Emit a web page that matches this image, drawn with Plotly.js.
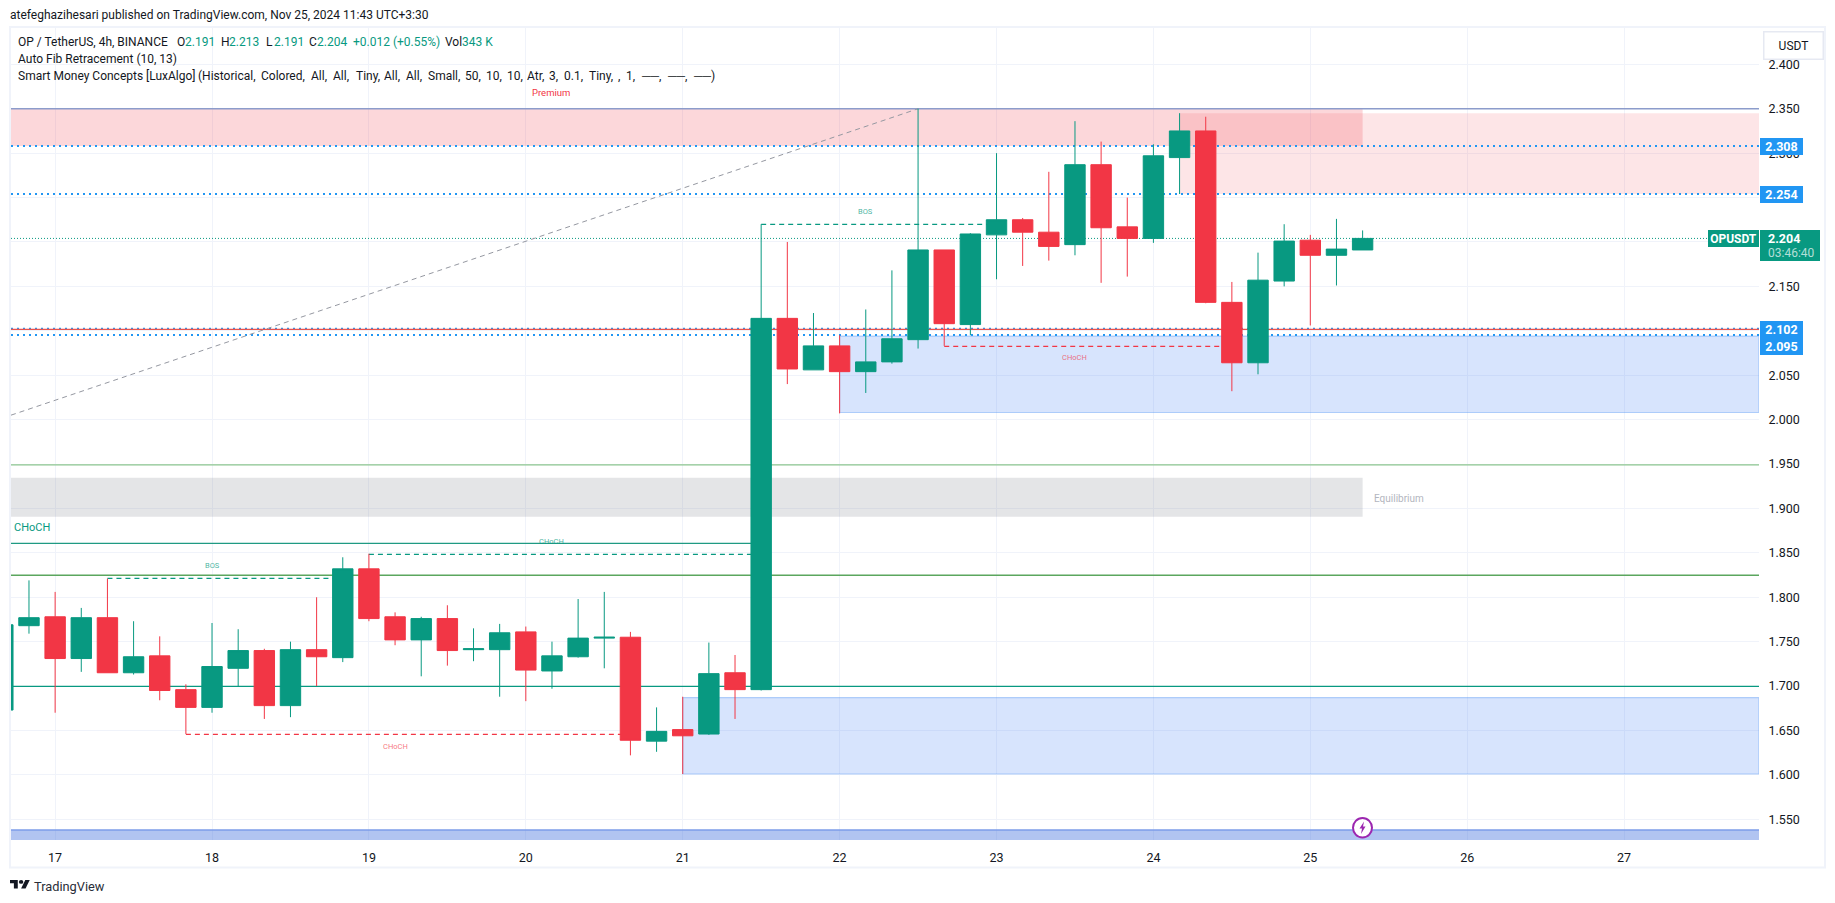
<!DOCTYPE html>
<html><head><meta charset="utf-8">
<script src="https://cdn.plot.ly/plotly-3.0.1.min.js"></script>
<style>html,body{margin:0;padding:0;background:#fff;overflow:hidden}</style>
</head><body><div id="chart" style="width:1835px;height:903px"></div>
<script>
const dates = [
"2024-11-16 16:00","2024-11-16 20:00","2024-11-17 00:00","2024-11-17 04:00","2024-11-17 08:00","2024-11-17 12:00","2024-11-17 16:00","2024-11-17 20:00",
"2024-11-18 00:00","2024-11-18 04:00","2024-11-18 08:00","2024-11-18 12:00","2024-11-18 16:00","2024-11-18 20:00",
"2024-11-19 00:00","2024-11-19 04:00","2024-11-19 08:00","2024-11-19 12:00","2024-11-19 16:00","2024-11-19 20:00",
"2024-11-20 00:00","2024-11-20 04:00","2024-11-20 08:00","2024-11-20 12:00","2024-11-20 16:00","2024-11-20 20:00",
"2024-11-21 00:00","2024-11-21 04:00","2024-11-21 08:00","2024-11-21 12:00","2024-11-21 16:00","2024-11-21 20:00",
"2024-11-22 00:00","2024-11-22 04:00","2024-11-22 08:00","2024-11-22 12:00","2024-11-22 16:00","2024-11-22 20:00",
"2024-11-23 00:00","2024-11-23 04:00","2024-11-23 08:00","2024-11-23 12:00","2024-11-23 16:00","2024-11-23 20:00",
"2024-11-24 00:00","2024-11-24 04:00","2024-11-24 08:00","2024-11-24 12:00","2024-11-24 16:00","2024-11-24 20:00",
"2024-11-25 00:00","2024-11-25 04:00","2024-11-25 08:00"];
const opens = [1.673,1.768,1.778,1.731,1.777,1.715,1.734,1.696,1.676,1.720,1.740,1.678,1.741,1.732,1.832,1.778,1.752,1.776,1.741,1.741,1.761,1.717,1.733,1.754,1.755,1.638,1.651,1.646,1.715,1.696,2.114,2.056,2.083,2.054,2.065,2.090,2.191,2.107,2.208,2.225,2.211,2.197,2.287,2.217,2.204,2.295,2.325,2.132,2.064,2.156,2.202,2.185,2.191];
const highs = [1.769,1.819,1.806,1.788,1.821,1.773,1.756,1.702,1.771,1.764,1.742,1.750,1.800,1.845,1.849,1.783,1.778,1.791,1.765,1.770,1.767,1.750,1.798,1.806,1.761,1.676,1.688,1.749,1.735,2.220,2.200,2.120,2.095,2.124,2.168,2.350,2.191,2.210,2.300,2.227,2.279,2.336,2.313,2.250,2.310,2.345,2.341,2.155,2.188,2.220,2.208,2.226,2.213];
const lows  = [1.673,1.759,1.670,1.716,1.715,1.713,1.684,1.646,1.670,1.700,1.663,1.665,1.700,1.727,1.773,1.746,1.711,1.723,1.728,1.688,1.683,1.697,1.732,1.720,1.622,1.626,1.601,1.645,1.663,1.695,2.040,2.056,2.007,2.030,2.063,2.080,2.083,2.095,2.158,2.173,2.179,2.185,2.154,2.161,2.199,2.254,2.131,2.032,2.051,2.150,2.106,2.151,2.191];
const closes= [1.769,1.777,1.731,1.777,1.715,1.733,1.695,1.676,1.722,1.740,1.678,1.741,1.733,1.832,1.776,1.752,1.776,1.740,1.742,1.760,1.718,1.734,1.754,1.755,1.639,1.649,1.644,1.714,1.696,2.114,2.057,2.083,2.054,2.065,2.091,2.191,2.108,2.209,2.225,2.211,2.195,2.287,2.216,2.204,2.297,2.325,2.132,2.064,2.157,2.201,2.185,2.192,2.204];

const dayTicks = ["2024-11-17","2024-11-18","2024-11-19","2024-11-20","2024-11-21","2024-11-22","2024-11-23","2024-11-24","2024-11-25","2024-11-26","2024-11-27"];
const dayLabels = ["17","18","19","20","21","22","23","24","25","26","27"];
const priceTicks = [1.55,1.60,1.65,1.70,1.75,1.80,1.85,1.90,1.95,2.00,2.05,2.10,2.15,2.20,2.25,2.30,2.35,2.40];

const xStart = "2024-11-16 17:15", xEnd = "2024-11-27 20:38";
const yRange = [1.5267, 2.4409];

// zones: [x0, x1, low, high, fill, line]
const zones = [
  [xStart,"2024-11-25 08:00",2.308,2.350,"rgba(242,54,69,0.2)",null],
  ["2024-11-24 04:00",xEnd,2.254,2.345,"rgba(242,54,69,0.13)",null],
  ["2024-11-22 00:00",xEnd,2.008,2.094,"rgba(41,110,245,0.19)","rgba(80,150,245,0.4)"],
  ["2024-11-21 00:00",xEnd,1.601,1.687,"rgba(41,110,245,0.19)","rgba(80,150,245,0.4)"],
  [xStart,"2024-11-25 08:00",1.8907,1.9346,"rgba(120,123,134,0.2)",null],
  [xStart,xEnd,1.5267,1.538,"rgba(61,107,221,0.4)",null]
];
// levels: [x0, x1, price, color, width, dash]
const levels = [
  [xStart,xEnd,2.350,"#8c9ccb",1.5,"solid"],
  [xStart,xEnd,2.308,"#2196f3",2,"2px,4px"],
  [xStart,xEnd,2.254,"#2196f3",2,"2px,4px"],
  [xStart,xEnd,2.1024,"#2196f3",2,"2px,4px"],
  [xStart,xEnd,2.1016,"#e8524f",1.2,"solid"],
  [xStart,xEnd,2.0952,"#2196f3",2,"2px,4px"],
  [xStart,xEnd,2.204,"#089981",1,"1px,2px"],
  [xStart,xEnd,1.949,"#8cc68f",1.3,"solid"],
  [xStart,"2024-11-21 12:00",1.8607,"#1f9a83",1.3,"solid"],
  [xStart,xEnd,1.8247,"#5ba65e",1.5,"solid"],
  [xStart,xEnd,1.6997,"#089981",1.3,"solid"],
  [xStart,xEnd,1.538,"#7c9ce9",1.5,"solid"],
  ["2024-11-17 08:00","2024-11-18 20:00",1.8213,"#089981",1.2,"5px,4px"],
  ["2024-11-19 00:00","2024-11-21 12:00",1.8483,"#089981",1.2,"5px,4px"],
  ["2024-11-21 12:00","2024-11-23 00:00",2.2198,"#089981",1.2,"5px,4px"],
  ["2024-11-17 20:00","2024-11-20 16:00",1.6456,"#f23645",1.2,"5px,4px"],
  ["2024-11-22 16:00","2024-11-24 12:00",2.0825,"#f23645",1.2,"5px,4px"]
];
const fibLine = [xStart,2.005,"2024-11-22 12:00",2.350];

const W = 1835, H = 903, L = 11, R = 1759, T = 28, B = 840;
const px = x => (x - L) / (R - L), py = y => 1 - (y - T) / (B - T);
const FONT = "Roboto, sans-serif", DARK = "#131722", UP = "#089981", DOWN = "#f23645";

const shapes = [];
zones.forEach(z => shapes.push({type:"rect",layer:"between",xref:"x",yref:"y",x0:z[0],x1:z[1],y0:z[2],y1:z[3],fillcolor:z[4],line:z[5]?{color:z[5],width:1.2}:{width:0}}));
levels.forEach(l => shapes.push({type:"line",layer:"between",xref:"x",yref:"y",x0:l[0],x1:l[1],y0:l[2],y1:l[2],line:{color:l[3],width:l[4],dash:l[5]}}));
shapes.push({type:"line",layer:"between",xref:"x",yref:"y",x0:fibLine[0],y0:fibLine[1],x1:fibLine[2],y1:fibLine[3],line:{color:"#9598a1",width:1,dash:"5px,4px"}});
// chart frame
shapes.push({type:"rect",xref:"paper",yref:"paper",x0:px(10),x1:px(1825),y0:py(867.5),y1:py(27),line:{color:"#f0f3fa",width:2},fillcolor:"rgba(0,0,0,0)"});
// TradingView logo
const lx = x => px(10 + x * 20 / 36), ly = y => py(880 + (y - 4) * 8.5 / 18);
const poly = pts => "M" + pts.map(p => lx(p[0]) + "," + ly(p[1])).join(" L") + " Z";
shapes.push({type:"path",xref:"paper",yref:"paper",path:poly([[0,4],[14,4],[14,22],[7,22],[7,11],[0,11]]),fillcolor:DARK,line:{width:0}});
shapes.push({type:"path",xref:"paper",yref:"paper",path:poly([[27.5,4],[35.5,4],[28,22],[20,22]]),fillcolor:DARK,line:{width:0}});
shapes.push({type:"circle",xref:"paper",yref:"paper",x0:lx(16),x1:lx(24),y0:ly(12),y1:ly(4),fillcolor:DARK,line:{width:0}});
// lightning badge
shapes.push({type:"circle",xref:"paper",yref:"paper",x0:px(1353),x1:px(1372),y0:py(837.5),y1:py(818),fillcolor:"#fff",line:{color:"#9c27b0",width:2}});
const bp = pts => "M" + pts.map(p => px(p[0]) + "," + py(p[1])).join(" L") + " Z";
shapes.push({type:"path",xref:"paper",yref:"paper",path:bp([[1364,821.5],[1359.5,828.5],[1362,828.5],[1361,834],[1365.5,826.5],[1363,826.5]]),fillcolor:"#9c27b0",line:{width:0}});
// last-price box on the price scale
shapes.push({type:"rect",xref:"paper",yref:"paper",x0:px(1760),x1:px(1820),y0:py(261),y1:py(230),fillcolor:UP,line:{width:0}});

const anns = [];
function label(x, y, text, size, color, opts) {
  anns.push(Object.assign({xref:"paper",yref:"paper",x:px(x),y:py(y),text:text,showarrow:false,xanchor:"left",yanchor:"middle",
    font:{family:FONT,size:size,color:color},borderpad:0,borderwidth:0}, opts||{}));
}
label(10,15,"atefeghazihesari published on TradingView.com, Nov 25, 2024 11:43 UTC+3:30",12,DARK);
label(18,41.7,"OP / TetherUS, 4h, BINANCE",12,DARK);
[[177,"O","2.191"],[221,"H","2.213"],[266,"L","2.191"],[309,"C","2.204"]].forEach(a=>{
  label(a[0],41.7,a[1],12,DARK); label(a[0]+8,41.7,a[2],12,UP);
});
label(353,41.7,"+0.012 (+0.55%)",12,UP);
label(445,41.7,"Vol",12,DARK); label(462,41.7,"343 K",12,UP);
label(18,59,"Auto Fib Retracement (10, 13)",12,DARK);
[[18,"Smart Money Concepts [LuxAlgo]"],[198,"(Historical,"],[261,"Colored,"],[311,"All,"],[333,"All,"],[356,"Tiny,"],[384,"All,"],[406,"All,"],[428,"Small,"],
 [465,"50,"],[486,"10,"],[507,"10,"],[527,"Atr,"],[549,"3,"],[564,"0.1,"],[589,"Tiny,"],[618,","],[626,"1,"],[641,"──,"],[667,"──,"],[693,"──)"]].forEach(a=>label(a[0],76,a[1],12,DARK));
label(551,92.7,"Premium",9.5,DOWN,{xanchor:"center"});
label(865,211.7,"BOS",7.5,"rgba(8,153,129,0.75)",{xanchor:"center"});
label(1074,357.7,"CHoCH",7.5,"rgba(242,54,69,0.7)",{xanchor:"center"});
label(212,565.3,"BOS",7.5,"rgba(8,153,129,0.75)",{xanchor:"center"});
label(551,541.3,"CHoCH",7.5,"rgba(8,153,129,0.75)",{xanchor:"center"});
label(395,746.7,"CHoCH",7.5,"rgba(242,54,69,0.7)",{xanchor:"center"});
label(14,527.7,"CHoCH",11,UP);
label(1374,498,"Equilibrium",10,"#b2b5be");
label(33.5,886,"TradingView",12.8,"#2a2e39");

// price-scale boxes
function tag(x, y, w, h, text, bg, size, color) {
  anns.push({xref:"paper",yref:"paper",x:px(x),y:py(y),xanchor:"left",yanchor:"top",width:w,height:h,text:text,showarrow:false,
    bgcolor:bg,align:"center",valign:"middle",borderpad:0,borderwidth:0,font:{family:FONT,size:size,color:color||"#fff"}});
}
tag(1763,31,58,26,"USDT","#fff",12,DARK);
anns[anns.length-1].bordercolor="#e6e9f2"; anns[anns.length-1].borderwidth=1.5;
tag(1760,138,43,17,"<b>2.308</b>","#2196f3",12.5);
tag(1760,186,43,17,"<b>2.254</b>","#2196f3",12.5);
tag(1760,321,43,17,"<b>2.102</b>","#2196f3",12.5);
tag(1760,338,43,17,"<b>2.095</b>","#2196f3",12.5);
tag(1708,230,51,17,"<b>OPUSDT</b>",UP,12);
label(1768,238.5,"<b>2.204</b>",12.5,"#fff");
label(1768,253,"03:46:40",12,"rgba(255,255,255,0.7)");

const trace = {type:"candlestick",x:dates,open:opens,high:highs,low:lows,close:closes,hoverinfo:"skip",
  increasing:{line:{color:UP,width:1},fillcolor:UP},decreasing:{line:{color:DOWN,width:1},fillcolor:DOWN},whiskerwidth:0};

const layout = {
  width:W,height:H,autosize:false,paper_bgcolor:"#fff",plot_bgcolor:"#fff",showlegend:false,boxgap:0.22,boxgroupgap:0,
  margin:{l:L,r:W-R,t:T,b:H-B,pad:0},shapes:shapes,annotations:anns,hovermode:false,
  xaxis:{type:"date",range:[xStart,xEnd],rangeslider:{visible:false},tickmode:"array",tickvals:dayTicks,ticktext:dayLabels,
    showgrid:true,gridcolor:"#f0f3fa",gridwidth:1,zeroline:false,showline:false,ticks:"outside",ticklen:6,tickcolor:"rgba(0,0,0,0)",
    tickfont:{family:FONT,size:12.5,color:DARK}},
  yaxis:{side:"right",range:yRange,tickmode:"array",tickvals:priceTicks,ticktext:priceTicks.map(v=>v.toFixed(3)),
    showgrid:true,gridcolor:"#f0f3fa",gridwidth:1,zeroline:false,showline:false,ticks:"outside",ticklen:6,tickcolor:"rgba(0,0,0,0)",
    tickfont:{family:FONT,size:12.5,color:DARK}}
};
Plotly.newPlot("chart",[trace],layout,{staticPlot:true,displayModeBar:false});
</script></body></html>
